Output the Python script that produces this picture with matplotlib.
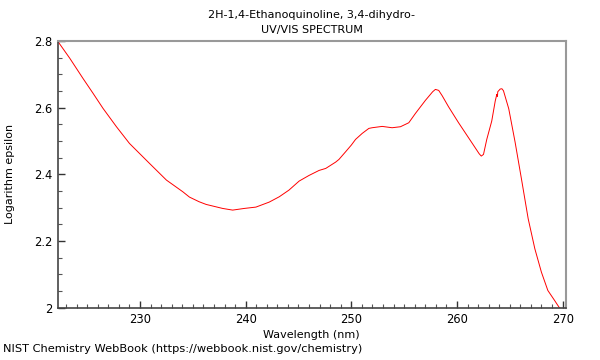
import numpy as np
from matplotlib import pyplot as plt
from matplotlib.ticker import MultipleLocator, FormatStrFormatter

# values
wavelength = [222.2, 223.36, 224.6, 225.56, 226.5, 227.77, 229.0, 230.9, 232.5, 234.05,
              234.68, 235.6, 236.26, 237.82, 238.77, 239.87, 240.97, 242.23, 243.18, 244.1,
              245.06, 246.0, 246.95, 247.58, 248.52, 248.83, 249.46, 250.0, 250.4, 251.03,
              251.66, 251.97, 252.92, 253.86, 254.65, 255.44, 256.07, 257.01, 257.7, 257.96,
              258.27, 258.6, 259.2, 260.15, 260.78, 261.41, 262.1, 262.3, 262.51, 262.82,
              263.29, 263.62, 263.77, 263.8, 263.83, 263.86, 264.09, 264.25, 264.4, 264.9,
              265.5, 266.1, 266.74, 267.37, 267.99, 268.6, 269.24, 269.55, 269.7, 269.9]
log_eps = [2.800, 2.748, 2.688, 2.643, 2.598, 2.543, 2.493, 2.433, 2.383, 2.348,
           2.332, 2.318, 2.310, 2.298, 2.293, 2.298, 2.302, 2.317, 2.333, 2.353,
           2.380, 2.397, 2.412, 2.418, 2.437, 2.445, 2.468, 2.488, 2.505, 2.523,
           2.538, 2.540, 2.544, 2.540, 2.543, 2.555, 2.583, 2.622, 2.648, 2.655,
           2.652, 2.636, 2.603, 2.555, 2.525, 2.495, 2.462, 2.455, 2.460, 2.505,
           2.560, 2.620, 2.640, 2.636, 2.634, 2.648, 2.656, 2.657, 2.651, 2.597,
           2.497, 2.387, 2.267, 2.177, 2.107, 2.052, 2.022, 2.007, 2.000, 1.995]

fig = plt.figure(figsize=(6, 3.6), dpi=100)
ax = fig.add_axes([0.096, 0.145, 0.847, 0.741])

ax.plot(wavelength, log_eps, color='red', linewidth=0.7)

ax.set_xlim(222.2, 270.3)
ax.set_ylim(2.0, 2.8)
ax.xaxis.set_major_locator(MultipleLocator(10))
ax.xaxis.set_minor_locator(MultipleLocator(1))
ax.yaxis.set_major_locator(MultipleLocator(0.2))
ax.yaxis.set_minor_locator(MultipleLocator(0.05))
ax.yaxis.set_major_formatter(FormatStrFormatter('%g'))
ax.tick_params(which='major', direction='in', length=5, width=1, labelsize=8.3, color='#333333')
ax.tick_params(which='minor', direction='in', length=3, width=0.8, color='#555555')

for side in ['top', 'right']:
    ax.spines[side].set_color('#999999')
    ax.spines[side].set_linewidth(1.5)
for side in ['left', 'bottom']:
    ax.spines[side].set_color('#444444')
    ax.spines[side].set_linewidth(1.2)

ax.set_xlabel('Wavelength (nm)', fontsize=8, labelpad=3)
ax.set_ylabel('Logarithm epsilon', fontsize=8, labelpad=14)
ax.set_title('2H-1,4-Ethanoquinoline, 3,4-dihydro-\nUV/VIS SPECTRUM', fontsize=8, pad=6,
             linespacing=1.55)
fig.text(0.005, 0.022, 'NIST Chemistry WebBook (https://webbook.nist.gov/chemistry)',
         fontsize=8.2, ha='left', va='baseline')

fig.savefig('out.png', dpi=100)
